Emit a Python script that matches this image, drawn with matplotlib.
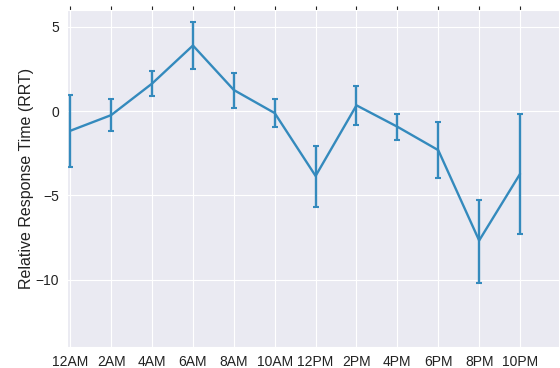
import matplotlib
matplotlib.use("Agg")
import matplotlib.pyplot as plt
import seaborn as sns

hours = [0, 2, 4, 6, 8, 10, 12, 14, 16, 18, 20, 22]
labels = ["12AM", "2AM", "4AM", "6AM", "8AM", "10AM",
          "12PM", "2PM", "4PM", "6PM", "8PM", "10PM"]
rrt = [-1.17, -0.24, 1.63, 3.89, 1.25, -0.12,
       -3.85, 0.34, -0.93, -2.32, -7.68, -3.73]
upper = [0.97, 0.71, 2.38, 5.30, 2.28, 0.71,
         -2.08, 1.49, -0.16, -0.67, -5.28, -0.18]
lower = [-3.30, -1.19, 0.91, 2.48, 0.20, -0.93,
         -5.71, -0.82, -1.73, -4.00, -10.18, -7.30]

sns.set_style("darkgrid")
plt.rcParams["font.family"] = ["Liberation Sans", "DejaVu Sans"]

err_lo = [m - l for m, l in zip(rrt, lower)]
err_hi = [u - m for m, u in zip(rrt, upper)]

fig = plt.figure(figsize=(5.6, 3.68), dpi=100)
ax = fig.add_axes([0.12, 0.057, 0.878, 0.916])
ax.errorbar(hours, rrt, yerr=[err_lo, err_hi], color="#348ABD",
            linewidth=1.7, elinewidth=1.7, capsize=2, capthick=1.5)

ax.set_xlim(-0.15, 23.9)
ax.set_ylim(-14, 6)
ax.set_xticks(hours)
ax.set_xticklabels(labels)
ax.set_yticks([-10, -5, 0, 5])
ax.tick_params(labelsize=10, colors="#222222", top=True, right=True,
               direction="out", length=3, width=0.8, pad=3)
ax.set_ylabel("Relative Response Time (RRT)", fontsize=11.5, color="#222222",
              labelpad=1)

fig.savefig("out.png", dpi=100)
